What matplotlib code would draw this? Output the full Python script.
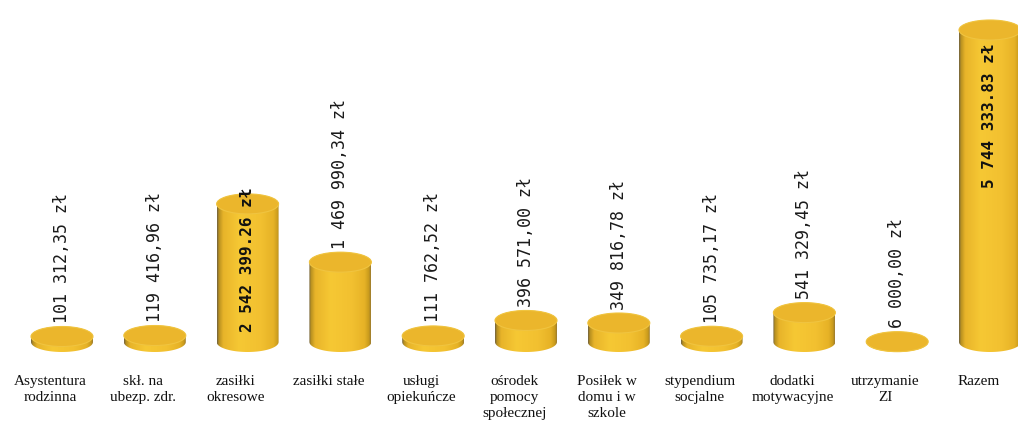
import numpy as np
import matplotlib
matplotlib.use("Agg")
import matplotlib.pyplot as plt
from matplotlib.patches import Ellipse, Polygon
from matplotlib.colors import LinearSegmentedColormap

# ---- data ----
categories = ["Asystentura\nrodzinna", "skł. na\nubezp. zdr.", "zasiłki\nokresowe",
              "zasiłki stałe", "usługi\nopiekuńcze", "ośrodek\npomocy\nspołecznej",
              "Posiłek w\ndomu i w\nszkole", "stypendium\nsocjalne", "dodatki\nmotywacyjne",
              "utrzymanie\nZI", "Razem"]
values = [101312.35, 119416.96, 2542399.26, 1469990.34, 111762.52, 396571.00,
          349816.78, 105735.17, 541329.45, 6000.00, 5744333.83]
label_inside = [False, False, True, False, False, False, False, False, False, False, True]

# ---- style ----
W, H, DPI = 1018, 421, 100
fig = plt.figure(figsize=(W / DPI, H / DPI), dpi=DPI)
ax = fig.add_axes([0, 0, 1, 1])
ax.set_axis_off()

spacing_px = 92.8
x0_px = 62.0
base_px = 342.0           # baseline (center of bottom ellipse) from top
scale = 5744333.83 / 312  # value units per pixel
ax.set_xlim(-x0_px / spacing_px, (W - x0_px) / spacing_px)
ax.set_ylim(-(H - base_px) * scale, base_px * scale)

bar_w = 62 / spacing_px
ell_h = 20 * scale

cmap = LinearSegmentedColormap.from_list("gold", [
    (0.0, "#6e6040"), (0.03, "#b89020"), (0.1, "#e8b42a"), (0.35, "#f6c834"),
    (0.7, "#f2c030"), (0.9, "#e6b226"), (0.97, "#c89a1c"), (1.0, "#9a7a30")])
grad = np.linspace(0, 1, 256)[None, :]

xs = np.arange(len(values))
for x, v, inside, cat in zip(xs, values, label_inside, categories):
    left, right = x - bar_w / 2, x + bar_w / 2
    t = np.linspace(np.pi, 2 * np.pi, 60)
    bot = np.column_stack([x + bar_w / 2 * np.cos(t), ell_h / 2 * np.sin(t)])
    t2 = np.linspace(0, np.pi, 60)
    top = np.column_stack([x + bar_w / 2 * np.cos(t2), v + ell_h / 2 * np.sin(t2)])
    poly = Polygon(np.vstack([bot, top]), closed=True, facecolor="none",
                   edgecolor="none")
    ax.add_patch(poly)
    im = ax.imshow(grad, cmap=cmap, aspect="auto",
                   extent=[left, right, -ell_h, v + ell_h], zorder=2,
                   interpolation="bilinear")
    im.set_clip_path(poly)
    ax.add_patch(Ellipse((x, v), bar_w, ell_h, facecolor="#ebb62c",
                         edgecolor="#f0c440", linewidth=0.8, zorder=3))

    if inside:
        lbl = f"{v:,.2f} zł".replace(",", " ")
        if v > 4e6:
            ax.annotate(lbl, (x, v), xytext=(0, -10),
                        textcoords="offset points", rotation=90, ha="center",
                        va="top", fontsize=11.5, fontweight="bold",
                        family="DejaVu Sans Mono", color="#111111", zorder=5)
        else:
            ax.annotate(lbl, (x, 0), xytext=(0, 7),
                        textcoords="offset points", rotation=90, ha="center",
                        va="bottom", fontsize=11.5, fontweight="bold",
                        family="DejaVu Sans Mono", color="#111111", zorder=5)
    else:
        txt = f"{v:,.2f}".replace(",", " ").replace(".", ",") + " zł"
        ax.annotate(txt, (x, v + ell_h / 2), xytext=(0, 2.5),
                    textcoords="offset points", rotation=90, ha="center",
                    va="bottom", fontsize=12, family="DejaVu Sans Mono",
                    color="#1a1a1a", zorder=5)

    ax.annotate(cat, (x, -(375 - base_px) * scale), xytext=(-8.5, 0),
                textcoords="offset points", ha="center", va="top",
                fontsize=11, family="Liberation Serif", color="#111111",
                linespacing=1.3)

fig.savefig("out.png", dpi=DPI)
